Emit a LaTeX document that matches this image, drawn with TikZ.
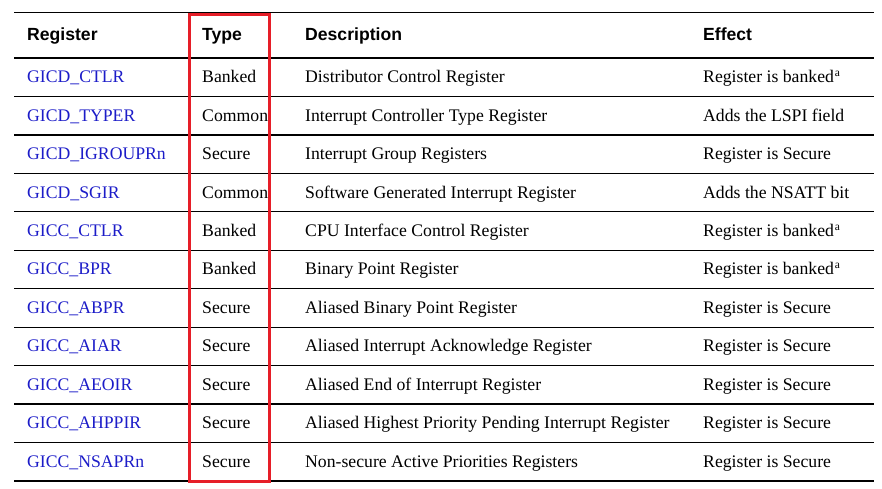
\documentclass[tikz,border=0pt]{standalone}
\usepackage{fontspec}
\setmainfont{Liberation Serif}
\setsansfont{Liberation Sans}
\definecolor{reglink}{RGB}{28,28,200}
\definecolor{boxred}{RGB}{230,30,40}
\newcommand{\regbanked}{Register is banked\kern0.8pt\raisebox{0.36em}{\fontsize{11.5}{11.5}\selectfont a}}
\begin{document}
\begin{tikzpicture}[x=1pt,y=-1pt,
  cell/.style={anchor=base west,inner sep=0pt,font=\fontsize{17.7}{20}\selectfont},
  head/.style={anchor=base west,inner sep=0pt,font=\fontsize{17.6}{20}\sffamily\bfseries},
  rule/.style={line width=1.3pt,black},
  redbox/.style={draw=boxred,line width=2.6pt}]
\useasboundingbox (0,0) rectangle (882,488);
% header
\node[head] (hreg) at (27,40) {Register};
\node[head] (htype) at (202,40) {Type};
\node[head] (hdesc) at (305,40) {Description};
\node[head] (heff) at (703,40) {Effect};
% rules
\coordinate (L0) at (14,12.5);
\coordinate (R0) at (874,12.5);
\draw[rule] (L0) -- (R0);
\foreach \k in {0,...,11}{
  \coordinate (La\k) at (14,58+38.45*\k);
  \coordinate (Ra\k) at (874,58+38.45*\k);
  \draw[rule] (La\k) -- (Ra\k);
}
% rows
\foreach \k/\r/\t/\d/\e in {
 1/GICD\_CTLR/Banked/Distributor Control Register/\regbanked,
 2/GICD\_TYPER/Common/Interrupt Controller Type Register/Adds the LSPI field,
 3/GICD\_IGROUPRn/Secure/Interrupt Group Registers/Register is Secure,
 4/GICD\_SGIR/Common/Software Generated Interrupt Register/Adds the NSATT bit,
 5/GICC\_CTLR/Banked/CPU Interface Control Register/\regbanked,
 6/GICC\_BPR/Banked/Binary Point Register/\regbanked,
 7/GICC\_ABPR/Secure/Aliased Binary Point Register/Register is Secure,
 8/GICC\_AIAR/Secure/Aliased Interrupt Acknowledge Register/Register is Secure,
 9/GICC\_AEOIR/Secure/Aliased End of Interrupt Register/Register is Secure,
 10/GICC\_AHPPIR/Secure/Aliased Highest Priority Pending Interrupt Register/Register is Secure,
 11/GICC\_NSAPRn/Secure/Non-secure Active Priorities Registers/Register is Secure}{
  \pgfmathsetmacro{\yb}{58+38.45*(\k-0.5)+5.5}
  \node[cell,text=reglink] (reg\k) at (27,\yb) {\r};
  \node[cell] (type\k) at (202,\yb) {\t};
  \node[cell] (desc\k) at (305,\yb) {\d};
  \node[cell] (eff\k) at (703,\yb) {\e};
}
% red highlight box around Type column
\node[redbox,inner sep=0pt,minimum width=80pt,minimum height=467pt,anchor=north west] (hl) at (188,13) {};
\end{tikzpicture}
\end{document}
